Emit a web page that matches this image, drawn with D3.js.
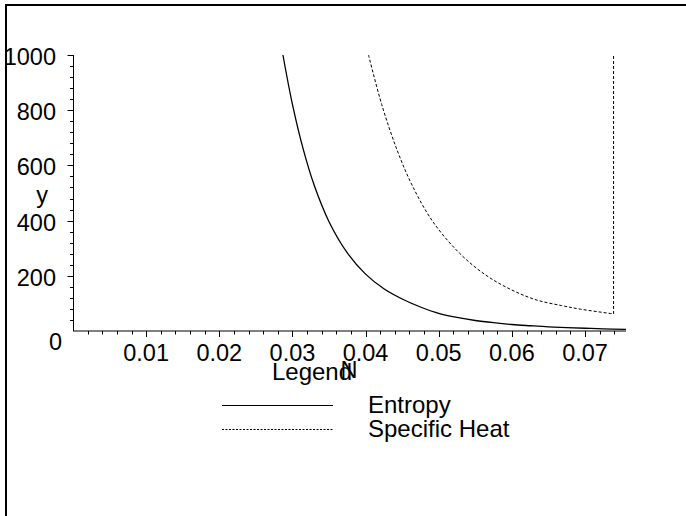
<!DOCTYPE html>
<html><head><meta charset="utf-8">
<script src="https://cdn.jsdelivr.net/npm/d3@7"></script>
<style>body{margin:0;background:#fff}svg{display:block}text{font-family:"Liberation Sans",Arial,sans-serif;fill:#000}</style>
</head><body>
<script>
// Data
const entropyN = [0.0287,0.030,0.0315,0.033,0.035,0.0375,0.040,0.0425,0.045,0.0475,0.050,0.0525,0.055,0.0575,0.060,0.0625,0.065,0.0675,0.070,0.0725,0.0756];
const entropyY = [1000,821,656,526,396,283,206,153,116,87,64,49,38,30,23.5,19,15,12.5,10,8,6];
const heatN = [0.0404,0.0422,0.0443,0.0464,0.0492,0.0528,0.0563,0.0598,0.0633,0.0668,0.0694,0.0739,0.0739];
const heatY = [1000,821,656,526,396,283,205,151,113,92,79,62,1000];
const xTickLabels = ["0.01","0.02","0.03","0.04","0.05","0.06","0.07"];
const yTickLabels = ["200","400","600","800","1000"];
const legendLabels = ["Entropy","Specific Heat"];

const W=686,H=516;
const svg=d3.select("body").append("svg").attr("width",W).attr("height",H);
const x=d3.scaleLinear().domain([0,0.0756]).range([73,626]);
const y=d3.scaleLinear().domain([0,1000]).range([331,55]);

// frame (top and left)
svg.append("path").attr("d",`M6,${H}V5H${W}`).attr("fill","none").attr("stroke","#000").attr("stroke-width",2);

const fs=23.5, lfs=24;
// x axis
const xMinor=d3.range(1,38).map(i=>i*0.002);
svg.append("line").attr("x1",x(0)).attr("x2",x(0.0756)).attr("y1",y(0)).attr("y2",y(0)).attr("stroke","#000");
svg.selectAll(".xt").data(xMinor).enter().append("line")
 .attr("x1",d=>Math.round(x(d))+0.5).attr("x2",d=>Math.round(x(d))+0.5)
 .attr("y1",y(0)).attr("y2",(d,i)=>y(0)+((i+1)%5===0?6:3.5)).attr("stroke","#000");
svg.selectAll(".xl").data(xTickLabels).enter().append("text")
 .attr("x",d=>x(+d)).attr("y",361).attr("text-anchor","middle").attr("font-size",fs).text(d=>d);

// y axis
const yMinor=d3.range(1,26).map(i=>i*40);
svg.append("line").attr("x1",73.5).attr("x2",73.5).attr("y1",y(0)).attr("y2",y(1000)).attr("stroke","#000");
svg.selectAll(".yt").data(yMinor).enter().append("line")
 .attr("y1",d=>Math.round(y(d))+0.5).attr("y2",d=>Math.round(y(d))+0.5)
 .attr("x1",73.5).attr("x2",d=>73.5-(d%200===0?6:3.5)).attr("stroke","#000");
svg.selectAll(".yl").data(yTickLabels).enter().append("text")
 .attr("x",56).attr("y",d=>y(+d)+10).attr("text-anchor","end").attr("font-size",fs).text(d=>d);
svg.append("text").attr("x",62).attr("y",350).attr("text-anchor","end").attr("font-size",fs).text("0");

// axis labels
svg.append("text").attr("x",42).attr("y",203).attr("text-anchor","middle").attr("font-size",fs).text("y");
svg.append("text").attr("x",349).attr("y",378).attr("text-anchor","middle").attr("font-size",fs).text("N");

// curves
const line=d3.line().x(d=>x(d[0])).y(d=>y(d[1])).curve(d3.curveCatmullRom);
const ent=entropyN.map((n,i)=>[n,entropyY[i]]);
svg.append("path").attr("d",line(ent)).attr("fill","none").attr("stroke","#000").attr("stroke-width",1.3);
const heat=heatN.map((n,i)=>[n,heatY[i]]);
svg.append("path").attr("d",line(heat.slice(0,-1))+`L${x(heat[heat.length-1][0])},${y(heat[heat.length-1][1])}`)
 .attr("fill","none").attr("stroke","#000").attr("stroke-width",1).attr("stroke-dasharray","3,2");

// legend
svg.append("text").attr("x",312).attr("y",380).attr("text-anchor","middle").attr("font-size",lfs).text("Legend");
const ly=[405,429];
legendLabels.forEach((t,i)=>{
  svg.append("line").attr("x1",222).attr("x2",333).attr("y1",ly[i]+0.5).attr("y2",ly[i]+0.5).attr("stroke","#000")
   .attr("stroke-dasharray",i===1?"2,1.5":null);
  svg.append("text").attr("x",368).attr("y",[413,437][i]).attr("font-size",lfs).text(t);
});
</script>
</body></html>
